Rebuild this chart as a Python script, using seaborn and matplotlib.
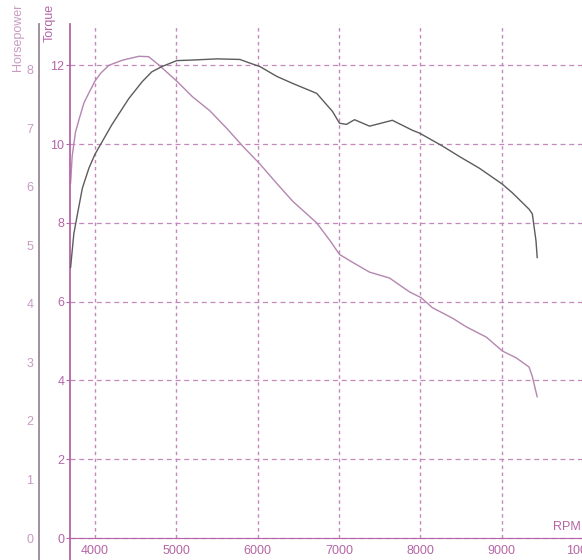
import matplotlib
matplotlib.use("Agg")
import matplotlib.pyplot as plt
from matplotlib.ticker import MultipleLocator
import seaborn as sns

# ──────────────────────────────────────────
# Dyno readings
# ──────────────────────────────────────────
TQ_RPM = [3700, 3720, 3760, 3800, 3865, 3925, 4000, 4070, 4170, 4335, 4540, 4660,
          4790, 5005, 5200, 5410, 5620, 5815, 6025, 6235, 6430, 6725, 6885, 7005,
          7165, 7375, 7620, 7865, 8010, 8145, 8395, 8565, 8810, 9005, 9180, 9335,
          9375, 9435]
TQ_VAL = [9.0, 9.7, 10.3, 10.6, 11.05, 11.3, 11.6, 11.8, 12.0, 12.13, 12.23, 12.22,
          12.0, 11.6, 11.2, 10.85, 10.4, 9.95, 9.5, 9.0, 8.55, 8.0, 7.56, 7.2,
          7.0, 6.75, 6.6, 6.25, 6.1, 5.85, 5.58, 5.36, 5.1, 4.75, 4.57, 4.34,
          4.1, 3.58]

HP_RPM = [3700, 3740, 3785, 3845, 3925, 4000, 4070, 4210, 4415, 4580, 4700, 4825,
          5005, 5200, 5500, 5780, 5940, 6025, 6235, 6430, 6725, 6920, 7005, 7090,
          7190, 7375, 7655, 7900, 7990, 8270, 8480, 8725, 9005, 9130, 9335, 9375,
          9420, 9435]
HP_VAL = [4.62, 5.2, 5.54, 5.98, 6.32, 6.56, 6.73, 7.07, 7.51, 7.8, 7.97, 8.06,
          8.16, 8.17, 8.19, 8.18, 8.1, 8.06, 7.89, 7.77, 7.6, 7.29, 7.09, 7.07,
          7.15, 7.04, 7.14, 6.97, 6.92, 6.7, 6.52, 6.32, 6.05, 5.9, 5.62, 5.54,
          5.08, 4.79]

RPM_TICKS = [4000, 5000, 6000, 7000, 8000, 9000, 10000]
TQ_TICKS = [0, 2, 4, 6, 8, 10, 12]
HP_TICKS = [0, 1, 2, 3, 4, 5, 6, 7, 8]

PINK = "#b565a7"
GRID = "#c488bc"
TQ_LINE = "#b486b0"
HP_LINE = "#5c5c5c"
HP_SPINE = "#9a8896"
HP_TEXT = "#c99bc3"

sns.set_style("white")
plt.rcParams["font.family"] = ["Liberation Sans", "DejaVu Sans"]

W, H = 582, 560
fig = plt.figure(figsize=(W / 100, H / 100), dpi=100)
ax = fig.add_axes([70 / W, 0, 514 / W, 536 / H])

# torque axis (main)
sns.lineplot(x=TQ_RPM, y=TQ_VAL, ax=ax, color=TQ_LINE, lw=1.0, sort=False)
ax.set_xlim(3693, 10010)
ax.set_ylim(-0.558, 13.05)
ax.set_xticks(RPM_TICKS)
ax.xaxis.set_minor_locator(MultipleLocator(200))
ax.set_yticks(TQ_TICKS)
for s in ["top", "right"]:
    ax.spines[s].set_visible(False)
ax.spines["bottom"].set_position(("data", 0))
ax.spines["bottom"].set_color(PINK)
ax.spines["left"].set_color(PINK)
ax.spines["left"].set_linewidth(1.3)
ax.tick_params(axis="x", which="major", direction="inout", length=6, color=PINK,
               labelcolor=PINK, labelsize=9, pad=2)
ax.tick_params(axis="x", which="minor", direction="inout", length=4, color=PINK)
ax.tick_params(axis="y", direction="out", length=3, color=PINK,
               labelcolor=PINK, labelsize=9, pad=1)

# grid
ax.grid(axis="y", ls=(0, (4, 3)), color=GRID, lw=0.9)
ax.vlines(RPM_TICKS, 0, 13.05, colors=GRID, linestyles=[(0, (2.5, 2.5))], lw=1.0, zorder=0)
ax.set_axisbelow(True)
ax.set_xlabel("")
ax.set_ylabel("")
ax.text(0.967, 0.12, "RPM", transform=ax.get_yaxis_transform(), ha="center",
        va="bottom", color=PINK, fontsize=9)

# horsepower axis
ax2 = ax.twinx()
sns.lineplot(x=HP_RPM, y=HP_VAL, ax=ax2, color=HP_LINE, lw=1.0, sort=False)
ax2.set_ylim(-0.376, 8.786)
ax2.set_yticks(HP_TICKS)
for s in ["top", "right", "bottom"]:
    ax2.spines[s].set_visible(False)
ax2.spines["left"].set_visible(True)
ax2.spines["left"].set_position(("axes", -31 / 514))
ax2.spines["left"].set_color(HP_SPINE)
ax2.spines["left"].set_linewidth(1.3)
ax2.yaxis.set_ticks_position("left")
ax2.tick_params(axis="y", length=0, labelcolor=HP_TEXT, labelsize=9, pad=4)
ax2.set_ylabel("")
ax2.grid(False)

fig.text(18 / W, 1 - 4 / H, "Horsepower", rotation=90, ha="center", va="top",
         color=HP_TEXT, fontsize=9)
fig.text(50 / W, 1 - 4 / H, "Torque", rotation=90, ha="center", va="top",
         color=PINK, fontsize=9)

fig.savefig("out.png", dpi=100, facecolor="white")
